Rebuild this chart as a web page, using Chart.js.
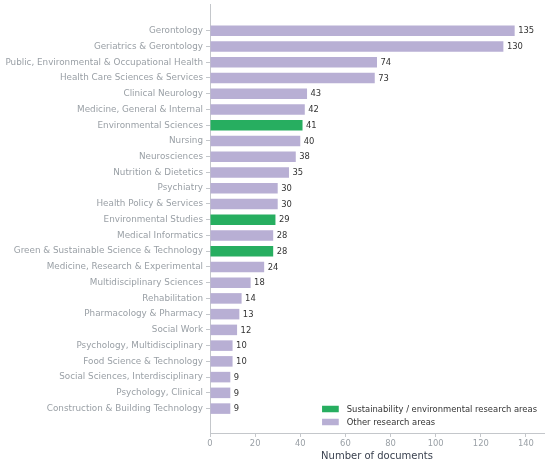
<!DOCTYPE html>
<html><head><meta charset="utf-8">
<script src="https://cdn.jsdelivr.net/npm/chart.js@4/dist/chart.umd.min.js"></script>
<style>html,body{margin:0;padding:0;background:#fff}#wrap{width:550px;height:468px}</style>
</head><body><div id="wrap"><canvas id="c"></canvas></div>
<script>
const categories = [
  'Gerontology','Geriatrics & Gerontology','Public, Environmental & Occupational Health',
  'Health Care Sciences & Services','Clinical Neurology','Medicine, General & Internal',
  'Environmental Sciences','Nursing','Neurosciences','Nutrition & Dietetics','Psychiatry',
  'Health Policy & Services','Environmental Studies','Medical Informatics',
  'Green & Sustainable Science & Technology','Medicine, Research & Experimental',
  'Multidisciplinary Sciences','Rehabilitation','Pharmacology & Pharmacy','Social Work',
  'Psychology, Multidisciplinary','Food Science & Technology','Social Sciences, Interdisciplinary',
  'Psychology, Clinical','Construction & Building Technology'
];
const documentCounts = [135,130,74,73,43,42,41,40,38,35,30,30,29,28,28,24,18,14,13,12,10,10,9,9,9];
const sustainabilityAreas = ['Environmental Sciences','Environmental Studies','Green & Sustainable Science & Technology'];
const seriesLabels = ['Sustainability / environmental research areas','Other research areas'];
const xTickValues = [0,20,40,60,80,100,120,140];

const GREEN = '#27ae60', PURPLE = '#b8afd4';
const LABEL_GRAY = '#9aa0a6', SPINE = '#c4c7cb';

function points(isSust){
  const out = [];
  categories.forEach((c,i)=>{
    if (sustainabilityAreas.includes(c) === isSust) out.push({x: documentCounts[i], y: i});
  });
  return out;
}

const valueLabels = {
  id:'valueLabels',
  afterDatasetsDraw(chart){
    const ctx = chart.ctx;
    ctx.save();
    ctx.font = '8.4px "DejaVu Sans"';
    ctx.fillStyle = '#333333';
    ctx.textBaseline = 'middle';
    ctx.textAlign = 'left';
    chart.data.datasets.forEach((ds,di)=>{
      const meta = chart.getDatasetMeta(di);
      meta.data.forEach((el,j)=>{
        ctx.fillText(String(ds.data[j].x), el.x + 3.5, el.y + 0.5);
      });
    });
    ctx.restore();
  }
};

const insideLegend = {
  id:'insideLegend',
  afterDraw(chart){
    const ctx = chart.ctx, a = chart.chartArea;
    ctx.save();
    ctx.font = '8.4px "DejaVu Sans"';
    ctx.textBaseline = 'middle';
    const ds = chart.data.datasets;
    const maxW = Math.max(...ds.map(d=>ctx.measureText(d.label).width));
    const textX = a.right - 7 - maxW;
    const boxW = 16.7, boxH = 6.5;
    const boxX = textX - 8 - boxW;
    ds.forEach((d,i)=>{
      const y = a.bottom - 24 + i*13;
      ctx.fillStyle = d.backgroundColor;
      ctx.fillRect(boxX, y - boxH/2, boxW, boxH);
      ctx.fillStyle = '#333333';
      ctx.fillText(d.label, textX, y + 0.5);
    });
    ctx.restore();
  }
};

Chart.defaults.font.family = '"DejaVu Sans"';

new Chart(document.getElementById('c'), {
  type:'bar',
  data:{
    datasets:[
      {label: seriesLabels[0], data: points(true), backgroundColor: GREEN, grouped:false, barPercentage:0.67, categoryPercentage:1},
      {label: seriesLabels[1], data: points(false), backgroundColor: PURPLE, grouped:false, barPercentage:0.67, categoryPercentage:1}
    ]
  },
  options:{
    indexAxis:'y',
    responsive:true,
    maintainAspectRatio:false,
    animation:false,
    layout:{padding:{top:4,right:6,left:0,bottom:0}},
    plugins:{legend:{display:false}, tooltip:{enabled:false}},
    scales:{
      y:{
        type:'linear',
        reverse:true,
        offset:false,
        min:-1.7, max:25.55,
        afterBuildTicks(s){ s.ticks = categories.map((_,i)=>({value:i})); },
        afterFit(s){ s.width = 210; s.paddingTop = 0; s.paddingBottom = 0; },
        ticks:{autoSkip:false, padding:3, color:LABEL_GRAY, font:{size:8.8},
          callback:(v)=>categories[v]},
        grid:{display:true, offset:false, drawOnChartArea:false, drawTicks:true, tickLength:4, tickColor:SPINE},
        border:{display:true, color:SPINE, width:1}
      },
      x:{
        type:'linear',
        min:0, max:148,
        afterBuildTicks(s){ s.ticks = xTickValues.map(v=>({value:v})); },
        afterFit(s){ s.height = 35; },
        ticks:{padding:2, color:LABEL_GRAY, font:{size:8.4}},
        grid:{display:true, drawOnChartArea:false, drawTicks:true, tickLength:4, tickColor:SPINE},
        border:{display:true, color:SPINE, width:1},
        title:{display:true, text:'Number of documents', color:'#3b4250', font:{size:10}, padding:{top:2,bottom:6}}
      }
    }
  },
  plugins:[valueLabels, insideLegend]
});
</script></body></html>
